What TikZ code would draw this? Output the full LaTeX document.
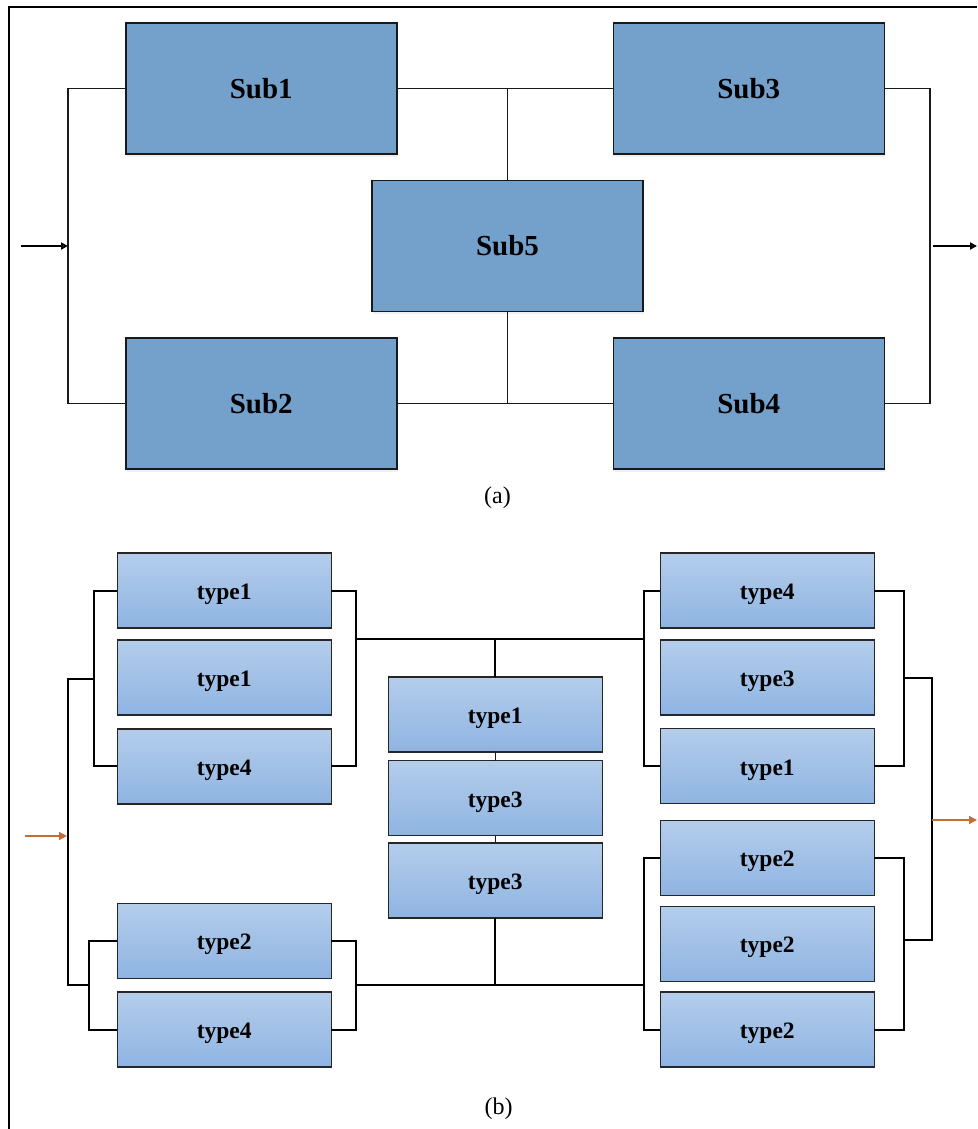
\documentclass[tikz,border=0pt]{standalone}
\usepackage{fontspec}
\setmainfont{Liberation Serif}
\usetikzlibrary{arrows.meta,positioning,shadows}

\definecolor{subfill}{RGB}{116,160,204}
\definecolor{typetop}{RGB}{180,205,235}
\definecolor{typebot}{RGB}{143,180,226}
\definecolor{tipbrown}{RGB}{150,80,20}
\definecolor{flow}{RGB}{196,110,55}

\begin{document}
\begin{tikzpicture}[
    x=1pt, y=-1pt,
    subbox/.style={draw=black!90, line width=1.5pt, fill=subfill,
        minimum width=271pt, minimum height=131pt, inner sep=0pt, outer sep=0pt,
        font=\fontsize{29}{30}\selectfont\bfseries,
        drop shadow={opacity=.12, shadow xshift=1pt, shadow yshift=-3pt}},
    typebox/.style={draw=black!85, line width=1.4pt,
        top color=typetop, bottom color=typebot,
        minimum width=214pt, minimum height=75pt, inner sep=0pt, outer sep=0pt,
        text height=18pt, text depth=0pt,
        font=\fontsize{23.5}{25}\selectfont\bfseries},
    thinwire/.style={draw=black!90, line width=1.3pt},
    wire/.style={draw=black, line width=2pt},
    inarrow/.style={draw=black, line width=2pt,
        -{Triangle[length=7pt,width=7pt,fill=tipbrown]}},
    flowarrow/.style={draw=flow, line width=1.3pt,
        -{Triangle[length=8pt,width=8pt,fill=flow]}},
    caption/.style={font=\fontsize{24}{26}\selectfont},
]
\useasboundingbox (0,0) rectangle (977,1129);

% frame
\draw[line width=2pt] (8.5,1129) -- (8.5,7.3) -- (977,7.3);

% (a) five subsystems
\node[subbox] (s1) at (261.3,88.3) {Sub1};
\node[subbox] (s2) at (261.3,403.5) {Sub2};
\node[subbox] (s3) at (748.8,88.3) {Sub3};
\node[subbox] (s4) at (748.8,403.5) {Sub4};
\node[subbox] (s5) at (507.5,245.8) {Sub5};

\coordinate (busl) at (68,246);
\coordinate (busr) at (930,246);
\coordinate (inA) at (21,246);
\coordinate (outA0) at (933,246);
\coordinate (outA) at (977,246);

\draw[thinwire] (s1.west) -| (busl) |- (s2.west);
\draw[thinwire] (s3.east) -| (busr) |- (s4.east);
\draw[thinwire] (s1.east) -- (s3.west);
\draw[thinwire] (s2.east) -- (s4.west);
\draw[thinwire] (s5.north) -- (s5.north |- s1.east);
\draw[thinwire] (s5.south) -- (s5.south |- s2.east);
\draw[inarrow] (inA) -- (busl);
\draw[inarrow] (outA0) -- (outA);

\node[caption] (capa) at (497.5,498) {(a)};

% (b) upper left group
\node[typebox] (l1) at (224.2,590.5) {type1};
\node[typebox, below=11.8pt of l1] (l2) {type1};
\node[typebox, below=14pt of l2] (l3) {type4};
% lower left group
\node[typebox] (b1) at (224.2,940.7) {type2};
\node[typebox, below=13.8pt of b1] (b2) {type4};
% middle column
\node[typebox] (m1) at (495.2,714.3) {type1};
\node[typebox, below=8.7pt of m1] (m2) {type3};
\node[typebox, below=7.5pt of m2] (m3) {type3};
% right column
\node[typebox] (r1) at (767.3,590.6) {type4};
\node[typebox, below=11.9pt of r1] (r2) {type3};
\node[typebox, below=13.7pt of r2] (r3) {type1};
\node[typebox] (r4) at (767.3,857.8) {type2};
\node[typebox, below=10.9pt of r4] (r5) {type2};
\node[typebox, below=10.8pt of r5] (r6) {type2};

% brackets and buses
\coordinate (la) at (93.5,679.3);
\coordinate (ra) at (355.5,639);
\coordinate (lb) at (89,985);
\coordinate (rb) at (355.7,984.5);
\coordinate (rla) at (643.7,639);
\coordinate (rlb) at (643.7,984.5);
\coordinate (rra) at (904,678.3);
\coordinate (rrb) at (904.3,940);
\coordinate (inl) at (68,679.3);
\coordinate (inl') at (68,985);
\coordinate (outr) at (932,678.3);
\coordinate (outr') at (932,940);
\coordinate (inB) at (25,836);
\coordinate (inBend) at (67,836);
\coordinate (outB) at (932,820);
\coordinate (outBend) at (977,820);

\draw[wire] (l1.west) -| (la) |- (l3.west);
\draw[wire] (l1.east) -| (ra) |- (l3.east);
\draw[wire] (b1.west) -| (lb) |- (b2.west);
\draw[wire] (b1.east) -| (rb) |- (b2.east);
\draw[wire] (r1.west) -| (rla) |- (r3.west);
\draw[wire] (r1.east) -| (rra) |- (r3.east);
\draw[wire] (r4.west) -| (rlb) |- (r6.west);
\draw[wire] (r4.east) -| (rrb) |- (r6.east);

\draw[wire] (la) -- (inl) -- (inl') -- (lb);
\draw[wire] (rra) -- (outr) -- (outr') -- (rrb);
\draw[wire] (ra) -- (rla);
\draw[wire] (rb) -- (rlb);
\draw[wire] (m1.north |- ra) -- (m1.north);
\draw[thinwire] (m1.south) -- (m2.north);
\draw[thinwire] (m2.south) -- (m3.north);
\draw[wire] (m3.south) -- (m3.south |- rb);

\draw[flowarrow] (inB) -- (inBend);
\draw[flowarrow] (outB) -- (outBend);

\node[caption] (capb) at (498.5,1108.7) {(b)};
\end{tikzpicture}
\end{document}
